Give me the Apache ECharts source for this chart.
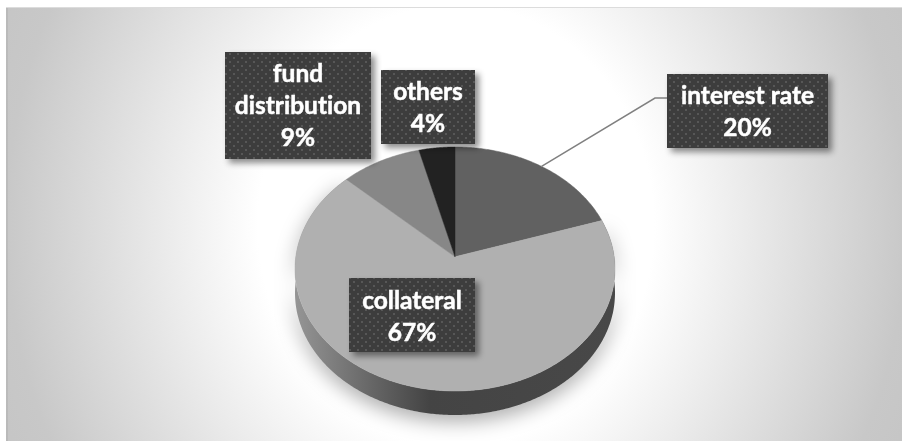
<!DOCTYPE html>
<html>
<head>
<meta charset="utf-8">
<style>
html,body{margin:0;padding:0;background:#fff;width:902px;height:441px;overflow:hidden}
#bg{position:absolute;left:6px;top:8px;width:896px;height:433px;
 background:radial-gradient(ellipse 450px 500px at 450px 217px,#fff 0,#fff 44%,#c8c8c8 100%,#c4c4c4 115%);
 box-shadow:inset 2px 0 0 rgba(0,0,0,.06),0 -1px 0 #dcdcdc}
#chart{position:absolute;left:0;top:0;width:902px;height:441px}
</style>
<script src="https://cdn.jsdelivr.net/npm/echarts@6/dist/echarts.min.js"></script>
</head>
<body>
<div id="bg"></div>
<div id="chart"></div>
<script>
const categories = ['interest rate', 'collateral', 'fund distribution', 'others'];
const values = [20, 67, 9, 4];
const labelText = ['interest rate', 'collateral', 'fund\ndistribution', 'others'];

const sliceColors = ['#616161', '#b0b0b0', '#878787', '#222222'];
const labelBoxes = [
  {x: 667, y: 74, w: 161, h: 74, ty: 112},
  {x: 349, y: 278, w: 126, h: 74, ty: 317},
  {x: 225, y: 52, w: 146, h: 107, ty: 106},
  {x: 381, y: 70, w: 94, h: 74, ty: 108}
];
const pie = {cx: 455, cy: 269, rx: 160, ry: 122, depth: 24, k: 0.1};

const total = values.reduce((a, b) => a + b, 0);
const starts = [];
values.reduce((acc, v, i) => { starts[i] = acc; return acc + v; }, 0);

function project(theta) {
  const x = Math.sin(theta), y = Math.cos(theta), k = pie.k;
  const d = 1 + k * y;
  return [pie.cx + pie.rx * x * Math.sqrt(1 - k * k) / d, pie.cy - pie.ry * (y + k) / d];
}
function arc(i) {
  const a0 = starts[i] / total * 2 * Math.PI;
  const a1 = (starts[i] + values[i]) / total * 2 * Math.PI;
  const n = Math.max(2, Math.ceil((a1 - a0) / 0.01));
  const pts = [];
  for (let j = 0; j <= n; j++) pts.push(project(a0 + (a1 - a0) * j / n));
  return pts;
}
function apex() { return [pie.cx, pie.cy - pie.ry * pie.k]; }

const tile = document.createElement('canvas');
tile.width = 8; tile.height = 8;
(function () {
  const c = tile.getContext('2d');
  c.fillStyle = '#3d3d3d'; c.fillRect(0, 0, 8, 8);
  c.fillStyle = '#575757';
  c.fillRect(1, 1, 2, 2); c.fillRect(5, 5, 2, 2);
})();

const data = categories.map((name, i) => ({name, value: values[i]}));

const option = {
  animation: false,
  backgroundColor: 'transparent',
  series: [
    {
      type: 'custom', coordinateSystem: 'none', silent: true, z: 1, data,
      renderItem(p, api) {
        const i = p.dataIndex;
        if (values[i] !== Math.max(...values)) return {type: 'group', children: []};
        const pts = arc(i);
        const low = pts.map(q => [q[0], q[1] + pie.depth]).reverse();
        return {
          type: 'polygon', shape: {points: pts.concat(low)},
          style: {
            fill: new echarts.graphic.LinearGradient(0, 0, 1, 0, [
              {offset: 0, color: '#959595'}, {offset: 0.22, color: '#6a6a6a'},
              {offset: 0.42, color: '#444444'}, {offset: 1, color: '#484848'}
            ]),
            shadowBlur: 20, shadowOffsetY: 6, shadowColor: 'rgba(0,0,0,0.35)'
          }
        };
      }
    },
    {
      type: 'custom', coordinateSystem: 'none', silent: true, z: 2, data,
      renderItem(p, api) {
        const i = p.dataIndex;
        return {
          type: 'polygon', shape: {points: [apex()].concat(arc(i))},
          style: {fill: sliceColors[i], stroke: sliceColors[i], lineWidth: 0.5}
        };
      }
    },
    {
      type: 'custom', coordinateSystem: 'none', silent: true, z: 3, data,
      renderItem(p, api) {
        const i = p.dataIndex;
        if (i !== 0) return {type: 'group', children: []};
        const b = labelBoxes[i];
        const mid = project((starts[i] + values[i] / 2) / total * 2 * Math.PI);
        return {
          type: 'polyline',
          shape: {points: [mid, [655, 98], [b.x, 98]]},
          style: {stroke: '#808080', lineWidth: 1.5, fill: null}
        };
      }
    },
    {
      type: 'custom', coordinateSystem: 'none', silent: true, z: 4, data,
      renderItem(p, api) {
        const i = p.dataIndex, b = labelBoxes[i];
        return {
          type: 'group',
          children: [
            {
              type: 'rect', shape: {x: b.x, y: b.y, width: b.w, height: b.h},
              style: {
                fill: {image: tile, repeat: 'repeat'},
                shadowBlur: 6, shadowOffsetX: 4, shadowOffsetY: 4, shadowColor: 'rgba(0,0,0,0.45)'
              }
            },
            {
              type: 'text',
              style: {
                text: labelText[i] + '\n' + values[i] + '%',
                x: b.x + b.w / 2, y: b.ty,
                fill: '#ffffff', stroke: '#ffffff', lineWidth: 0.5, font: 'bold 24.5px Lato',
                lineHeight: 32, textAlign: 'center', textVerticalAlign: 'middle'
              }
            }
          ]
        };
      }
    }
  ]
};
const chart = echarts.init(document.getElementById('chart'), null, {renderer: 'canvas'});
chart.setOption(option);
document.querySelectorAll('#chart canvas').forEach(cv => { cv.getContext('2d').textRendering = 'optimizeSpeed'; });
chart.setOption(option, true);
</script>
</body>
</html>
